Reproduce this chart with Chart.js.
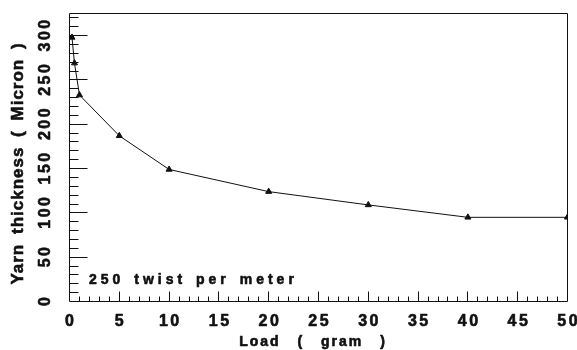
<!DOCTYPE html>
<html><head><meta charset="utf-8">
<script src="https://cdn.jsdelivr.net/npm/chart.js@4/dist/chart.umd.min.js"></script>
<style>html,body{margin:0;padding:0;background:#fff}#wrap{width:577px;height:350px}</style>
</head><body><div id="wrap"><canvas id="c" width="577" height="350"></canvas></div>
<script>
const loads = [0.25, 0.5, 1, 5, 10, 20, 30, 40, 50];
const thickness = [298, 269, 233, 187, 149, 124, 109, 95, 95];
const xTickLabels = ['0','5','10','15','20','25','30','35','40','45','50'];
const yTickLabels = ['0','50','100','150','200','250','300'];
const xTitle = 'Load ( gram )';
const yTitle = 'Yarn thickness ( Micron )';
const note = '250 twist per meter';

const INK = '#111';
const FAM = '"Liberation Sans", Arial, sans-serif';

function txt(ctx, s, x, y, size, ls, ws, align, rot) {
  ctx.save();
  ctx.translate(x, y);
  if (rot) ctx.rotate(rot);
  ctx.font = 'bold ' + size + 'px ' + FAM;
  ctx.letterSpacing = ls + 'px';
  ctx.wordSpacing = ws + 'px';
  ctx.fillStyle = INK;
  ctx.strokeStyle = INK;
  ctx.lineWidth = 0.6;
  ctx.lineJoin = 'round';
  ctx.textBaseline = 'alphabetic';
  let w = ctx.measureText(s).width - ls;
  let ox = align === 'center' ? -w / 2 : 0;
  ctx.textAlign = 'left';
  ctx.fillText(s, ox, 0);
  ctx.strokeText(s, ox, 0);
  ctx.restore();
}

const axesPlugin = {
  id: 'axesPlugin',
  beforeDatasetsDraw(chart) {
    const ctx = chart.ctx, ca = chart.chartArea;
    const xs = chart.scales.x, ys = chart.scales.y;
    ctx.save();
    ctx.strokeStyle = INK; ctx.lineWidth = 1;
    ctx.beginPath();
    ctx.rect(ca.left, ca.top, ca.right - ca.left, ca.bottom - ca.top);
    ctx.stroke();
    ctx.beginPath();
    for (let v = xs.min + 1; v < xs.max; v++) {
      const px = Math.round(xs.getPixelForValue(v) - 0.5) + 0.5;
      const len = v % 5 === 0 ? 10 : 5;
      ctx.moveTo(px, ca.bottom); ctx.lineTo(px, ca.bottom - len);
    }
    for (let v = ys.min + 10; v < ys.max; v += 10) {
      const py = Math.round(ys.getPixelForValue(v) - 0.5) + 0.5;
      const len = v % 50 === 0 ? 18 : 9;
      ctx.moveTo(ca.left, py); ctx.lineTo(ca.left + len, py);
    }
    ctx.stroke();
    ctx.restore();
  },
  afterDraw(chart) {
    const ctx = chart.ctx;
    const xs = chart.scales.x, ys = chart.scales.y;
    xTickLabels.forEach(l => txt(ctx, l, xs.getPixelForValue(Number(l)), 326, 16, 2.5, 0, 'center'));
    yTickLabels.forEach(l => txt(ctx, l, 50, ys.getPixelForValue(Number(l)), 16, 2.5, 0, 'center', -Math.PI / 2));
    txt(ctx, xTitle, 312, 346, 14, 2, 11, 'center');
    txt(ctx, yTitle, 23, 164, 17, 1, 4, 'center', -Math.PI / 2);
    txt(ctx, note, 89, 284, 14, 4, 2, 'left');
  }
};

new Chart(document.getElementById('c'), {
  type: 'scatter',
  data: {
    datasets: [{
      data: loads.map((x, i) => ({ x: x, y: thickness[i] })),
      showLine: true,
      borderColor: INK,
      borderWidth: 1,
      backgroundColor: INK,
      pointStyle: 'triangle',
      pointRadius: 3.5,
      pointBorderWidth: 1,
      tension: 0
    }]
  },
  options: {
    responsive: false,
    animation: false,
    devicePixelRatio: 1,
    layout: { padding: { top: 13.5, right: 9.5, left: 0, bottom: 0 } },
    plugins: { legend: { display: false }, tooltip: { enabled: false } },
    scales: {
      x: {
        type: 'linear', min: 0, max: 50,
        ticks: { display: false, stepSize: 5 },
        grid: { display: false }, border: { display: false },
        afterFit: s => { s.height = 48.5; }
      },
      y: {
        type: 'linear', min: 0, max: 325,
        ticks: { display: false, stepSize: 50 },
        grid: { display: false }, border: { display: false },
        afterFit: s => { s.width = 69.5; }
      }
    }
  },
  plugins: [axesPlugin]
});
</script>
</body></html>
